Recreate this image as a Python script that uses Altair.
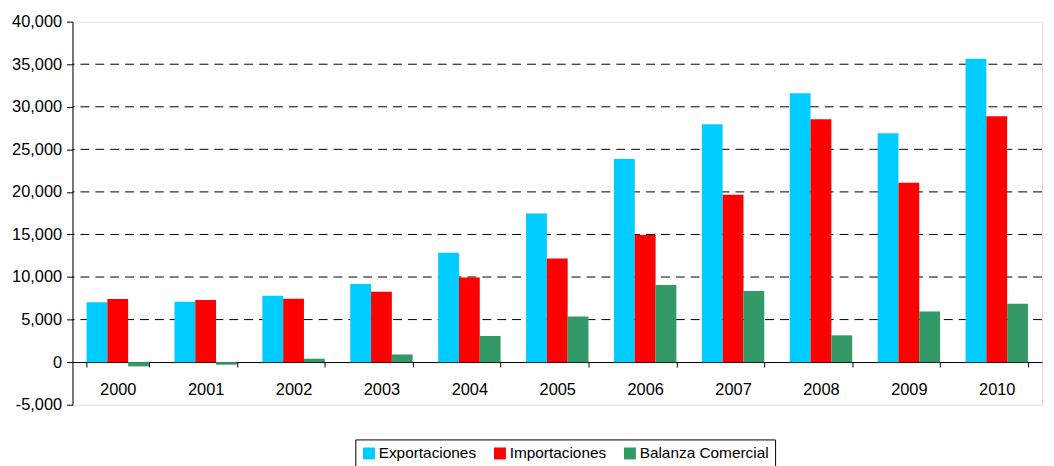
import altair as alt
import pandas as pd

years = ["2000", "2001", "2002", "2003", "2004", "2005", "2006", "2007", "2008", "2009", "2010"]
exportaciones = [7030, 7110, 7810, 9180, 12860, 17460, 23870, 27950, 31600, 26900, 35650]
importaciones = [7430, 7310, 7460, 8280, 9950, 12170, 14930, 19670, 28530, 21070, 28890]
balanza = [-500, -300, 400, 900, 3070, 5360, 9060, 8360, 3150, 5950, 6850]
series = ["Exportaciones", "Importaciones", "Balanza Comercial"]
colors = ["#00CCFF", "#FF0000", "#339966"]
grid_values = [5000, 10000, 15000, 20000, 25000, 30000, 35000]
y_ticks = [-5000, 0, 5000, 10000, 15000, 20000, 25000, 30000, 35000, 40000]

rows = []
for name, vals in zip(series, [exportaciones, importaciones, balanza]):
    for yr, v in zip(years, vals):
        rows.append({"Año": yr, "Serie": name, "Valor": v})
df = pd.DataFrame(rows)
grid_df = pd.DataFrame({"g": grid_values})

FONT = "Liberation Sans"

grid = alt.Chart(grid_df).mark_rule(color="black", strokeWidth=1, strokeDash=[9, 6]).encode(
    y=alt.Y("g:Q", scale=alt.Scale(domain=[-5000, 40000], nice=False))
)

bars = alt.Chart(df).mark_bar(stroke=None).encode(
    x=alt.X(
        "Año:N",
        sort=years,
        title=None,
        scale=alt.Scale(paddingInner=0.29, paddingOuter=0.16),
        axis=alt.Axis(
            labelAngle=0,
            offset=-43,
            tickBand="extent",
            tickSize=5,
            tickColor="black",
            domainColor="black",
            labelFont=FONT,
            labelFontSize=16.5,
            labelColor="black",
            labelPadding=15,
        ),
    ),
    xOffset=alt.XOffset("Serie:N", sort=series, scale=alt.Scale(domain=series, paddingInner=0, paddingOuter=0)),
    y=alt.Y(
        "Valor:Q",
        title=None,
        scale=alt.Scale(domain=[-5000, 40000], nice=False),
        axis=alt.Axis(
            values=y_ticks,
            format=",.0f",
            labelExpr="replace(datum.label, '\u2212', '-')",
            grid=False,
            tickSize=6,
            tickColor="black",
            domainColor="black",
            labelFont=FONT,
            labelFontSize=16.5,
            labelColor="black",
            labelPadding=5,
        ),
    ),
    color=alt.Color(
        "Serie:N",
        sort=series,
        scale=alt.Scale(domain=series, range=colors),
        legend=alt.Legend(
            title=None,
            orient="none",
            direction="horizontal",
            legendX=285,
            legendY=421,
            symbolType="square",
            symbolSize=144,
            symbolStrokeWidth=0,
            labelFont=FONT,
            labelFontSize=15.5,
            labelColor="black",
            labelOffset=2,
            columnPadding=16,
            padding=6,
            strokeColor="black",
            fillColor="white",
        ),
    ),
)

chart = alt.layer(grid, bars).properties(
    width=977,
    height=386,
    autosize=alt.AutoSizeParams(type="none"),
    padding={"left": 65, "top": 12, "right": 4, "bottom": 60},
).configure_view(stroke=None).configure(background="white")

chart.save("out.html", embed_options={"renderer": "svg", "actions": False})
